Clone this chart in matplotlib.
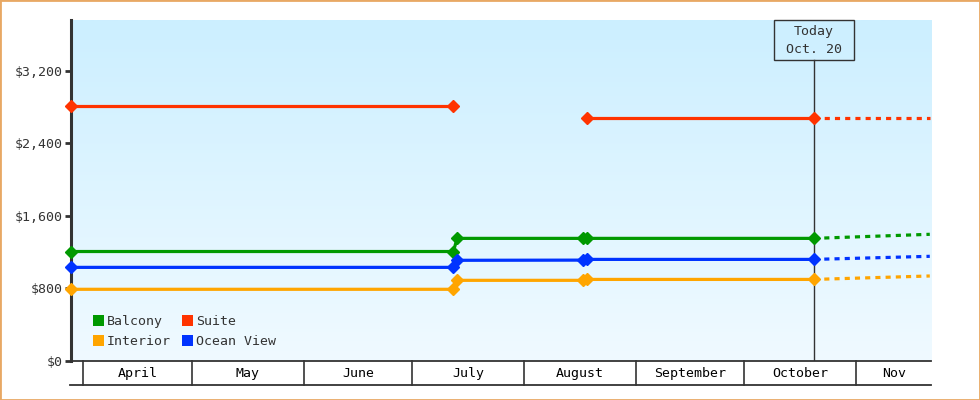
import numpy as np
import pandas as pd
import matplotlib
matplotlib.use("Agg")
import matplotlib.pyplot as plt
import matplotlib.dates as mdates
import matplotlib.transforms as mtransforms
from matplotlib.patches import Patch, Rectangle
from matplotlib.colors import LinearSegmentedColormap

# === Data ===
balcony_dates = ["2024-03-28 14:00", "2024-07-12 10:00", "2024-07-13 12:00",
                 "2024-08-17 05:00", "2024-08-18 12:00", "2024-10-20 07:00"]
balcony_vals = [1205, 1205, 1350, 1350, 1350, 1350]

suite_dates_a = ["2024-03-28 14:00", "2024-07-12 10:00"]
suite_vals_a = [2810, 2810]
suite_dates_b = ["2024-08-18 12:00", "2024-10-20 07:00"]
suite_vals_b = [2675, 2675]

ocean_dates = balcony_dates
ocean_vals = [1030, 1030, 1108, 1110, 1118, 1118]

interior_dates = balcony_dates
interior_vals = [788, 788, 887, 887, 897, 897]

# forecast (dashed), from today to the right edge
fc_dates = ["2024-10-20 07:00", "2024-11-21 08:00"]
fc_balcony = [1350, 1395]
fc_suite = [2675, 2675]
fc_ocean = [1118, 1152]
fc_interior = [897, 935]

today = "2024-10-20 07:00"
month_starts = ["2024-04-01", "2024-05-01", "2024-06-01", "2024-07-01", "2024-08-01",
                "2024-09-01", "2024-10-01", "2024-11-01"]
month_names = ["April", "May", "June", "July", "August", "September", "October", "Nov"]
x_left, x_right = "2024-03-28 14:00", "2024-11-21 16:00"
y_ticks = [0, 800, 1600, 2400, 3200]

colors = {"Balcony": "#009900", "Suite": "#ff3300", "Interior": "#ffa500", "Ocean View": "#0033ff"}
dark = "#333333"

plt.rcParams['font.family'] = ['DejaVu Sans Mono']
fs = 9.5

# === Figure ===
fig = plt.figure(figsize=(9.8, 4), dpi=100)
ax = fig.add_axes([71 / 980, (400 - 360.7) / 400, 860 / 980, 340.7 / 400])

xl, xr = pd.to_datetime(x_left), pd.to_datetime(x_right)
ax.set_xlim(xl, xr)
ax.set_ylim(0, 3760)

# gradient background
cmap = LinearSegmentedColormap.from_list("bg", ["#f0faff", "#ccefff"])
grad = np.linspace(0, 1, 256).reshape(-1, 1)
ax.imshow(grad, cmap=cmap, aspect="auto", origin="lower", extent=[0, 1, 0, 1],
          transform=ax.transAxes, zorder=0)

def draw(dates, vals, c, ls="-"):
    d = pd.to_datetime(dates)
    if ls == "-":
        ax.plot(d, vals, color=c, lw=2.3, marker="D", ms=5.8, clip_on=False, zorder=4)
    else:
        ax.plot(d, vals, color=c, lw=2.3, ls=(0, (1.6, 1.6)), zorder=3)

draw(balcony_dates, balcony_vals, colors["Balcony"])
draw(suite_dates_a, suite_vals_a, colors["Suite"])
draw(suite_dates_b, suite_vals_b, colors["Suite"])
draw(ocean_dates, ocean_vals, colors["Ocean View"])
draw(interior_dates, interior_vals, colors["Interior"])
draw(fc_dates, fc_balcony, colors["Balcony"], "--")
draw(fc_dates, fc_suite, colors["Suite"], "--")
draw(fc_dates, fc_ocean, colors["Ocean View"], "--")
draw(fc_dates, fc_interior, colors["Interior"], "--")

# today marker with its label box
td = pd.to_datetime(today)
box_bottom, box_h, box_w = 0.8817, 0.1183, 22.1  # axes fraction / days
ax.axvline(td, ymin=0, ymax=box_bottom, color=dark, lw=1, zorder=2)
trans = mtransforms.blended_transform_factory(ax.transData, ax.transAxes)
tdn = mdates.date2num(td)
ax.add_patch(Rectangle((tdn - box_w / 2, box_bottom), box_w, box_h, transform=trans,
                       fill=False, ec=dark, lw=1, clip_on=False, zorder=5))
ax.text(td, box_bottom + box_h / 2, "Today\nOct. 20", transform=trans, ha="center",
        va="center", fontsize=fs, color=dark, linespacing=1.5)

# axes styling
for s in ["top", "right", "bottom"]:
    ax.spines[s].set_visible(False)
ax.spines["left"].set_linewidth(2.2)
ax.spines["left"].set_color(dark)
ax.set_yticks(y_ticks)
ax.set_yticklabels([f"${v:,}" for v in y_ticks])
ax.tick_params(axis="y", length=4, width=2, color=dark, labelcolor=dark, labelsize=fs, pad=2)
ax.set_xticks([])

# month band under the plot
band = -0.0713
ax.plot([0, 1], [0, 0], transform=ax.transAxes, color=dark, lw=1.3, clip_on=False)
ax.plot([-0.0015, 1], [band, band], transform=ax.transAxes, color=dark, lw=1.3, clip_on=False)
starts = pd.to_datetime(month_starts)
edges = list(starts) + [xr]
for i, name in enumerate(month_names):
    ax.plot([starts[i], starts[i]], [0, band], transform=trans, color=dark, lw=1.2, clip_on=False)
    mid = edges[i] + (edges[i + 1] - edges[i]) / 2
    ax.text(mid, band / 2 - 0.003, name, transform=trans, ha="center", va="center",
            fontsize=fs, color="black")

# legend
order = ["Balcony", "Interior", "Suite", "Ocean View"]
handles = [Patch(fc=colors[k], ec="none") for k in order]
ax.legend(handles, order, ncol=2, loc="lower left", bbox_to_anchor=(0.0117, 0.002),
          frameon=False, fontsize=fs, handlelength=0.85, handleheight=0.85,
          handletextpad=0.2, columnspacing=0.85, labelspacing=0.55, labelcolor=dark)

# figure border
fig.patches.append(Rectangle((0, 0), 1, 1, transform=fig.transFigure, fill=False,
                             ec="#e8a864", lw=2, zorder=10))

fig.savefig("out.png", dpi=100)
